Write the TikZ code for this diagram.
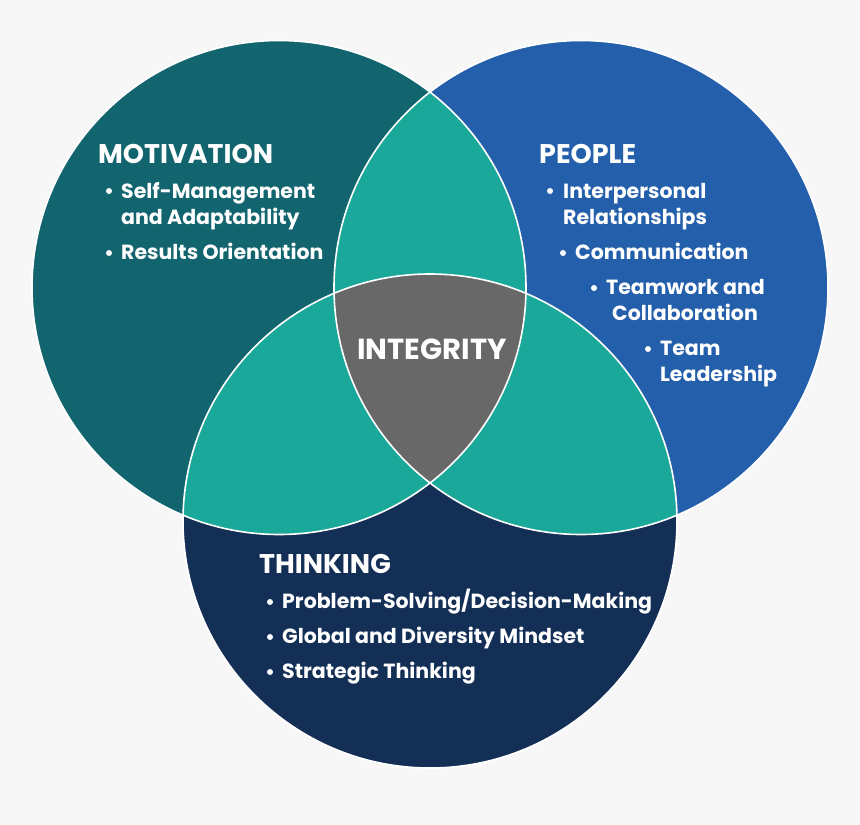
\documentclass[tikz,border=0pt]{standalone}
\usepackage{fontspec}
\setmainfont{Poppins}
\usetikzlibrary{positioning}

\definecolor{bgcol}{HTML}{F7F7F7}
\definecolor{motivcol}{HTML}{12656E}
\definecolor{peoplecol}{HTML}{245FAB}
\definecolor{thinkcol}{HTML}{142F56}
\definecolor{overlapcol}{HTML}{1AA89A}
\definecolor{integcol}{HTML}{686868}

\tikzset{
  heading/.style={font=\fontsize{27}{31}\selectfont\bfseries, text=white, anchor=base west, inner sep=0pt},
  item/.style={font=\fontsize{20.5}{24}\selectfont\bfseries, text=white, anchor=base west, inner sep=0pt},
  dot/.style={fill=white, circle, inner sep=0pt, minimum size=6pt},
  rim/.style={draw=white, line width=1.6pt}
}

\begin{document}
\begin{tikzpicture}[x=1pt,y=-1pt]
  \useasboundingbox (0,0) rectangle (860,825);
  \fill[bgcol] (0,0) rectangle (860,825);
  % circle centres
  \coordinate (M) at (279,287.5);
  \coordinate (P) at (581,287.5);
  \coordinate (T) at (430,521);
  % the three circles
  \fill[motivcol] (M) circle[radius=247pt];
  \fill[peoplecol] (P) circle[radius=247pt];
  \fill[thinkcol] (T) circle[radius=247pt];
  % pairwise overlaps
  \begin{scope}
    \clip (M) circle[radius=247pt];
    \fill[overlapcol] (P) circle[radius=247pt];
    \fill[overlapcol] (T) circle[radius=247pt];
  \end{scope}
  \begin{scope}
    \clip (P) circle[radius=247pt];
    \fill[overlapcol] (T) circle[radius=247pt];
  \end{scope}
  % centre
  \begin{scope}
    \clip (M) circle[radius=247pt];
    \clip (P) circle[radius=247pt];
    \fill[integcol] (T) circle[radius=247pt];
  \end{scope}
  % white rims
  \draw[rim] (M) circle[radius=247pt];
  \draw[rim] (P) circle[radius=247pt];
  \draw[rim] (T) circle[radius=247pt];

  % MOTIVATION
  \node[heading] (motiv) at (98,163) {MOTIVATION};
  \node[dot] (m1d) at (109,191) {};
  \node[item] (m1) at (121,198) {Self-Management};
  \node[item] (m1b) at (121,224) {and Adaptability};
  \node[dot] (m2d) at (109,253) {};
  \node[item] (m2) at (121,259) {Results Orientation};

  % PEOPLE
  \node[heading] (people) at (539,163) {PEOPLE};
  \node[dot] (p1d) at (550,191) {};
  \node[item] (p1) at (563,198) {Interpersonal};
  \node[item] (p1b) at (563,224) {Relationships};
  \node[dot] (p2d) at (563,253) {};
  \node[item] (p2) at (575,259) {Communication};
  \node[dot] (p3d) at (594,288) {};
  \node[item] (p3) at (606,294) {Teamwork and};
  \node[item] (p3b) at (612,320) {Collaboration};
  \node[dot] (p4d) at (648,349) {};
  \node[item] (p4) at (660,355) {Team};
  \node[item] (p4b) at (660,381) {Leadership};

  % INTEGRITY
  \node[heading, anchor=base, font=\fontsize{29}{33}\selectfont\bfseries] (integ) at (432,359) {INTEGRITY};

  % THINKING
  \node[heading] (think) at (259,573) {THINKING};
  \node[dot] (t1d) at (270,602) {};
  \node[item] (t1) at (282,608) {Problem-Solving/Decision-Making};
  \node[dot] (t2d) at (270,637) {};
  \node[item] (t2) at (282,643) {Global and Diversity Mindset};
  \node[dot] (t3d) at (270,672) {};
  \node[item] (t3) at (282,678) {Strategic Thinking};
\end{tikzpicture}
\end{document}
